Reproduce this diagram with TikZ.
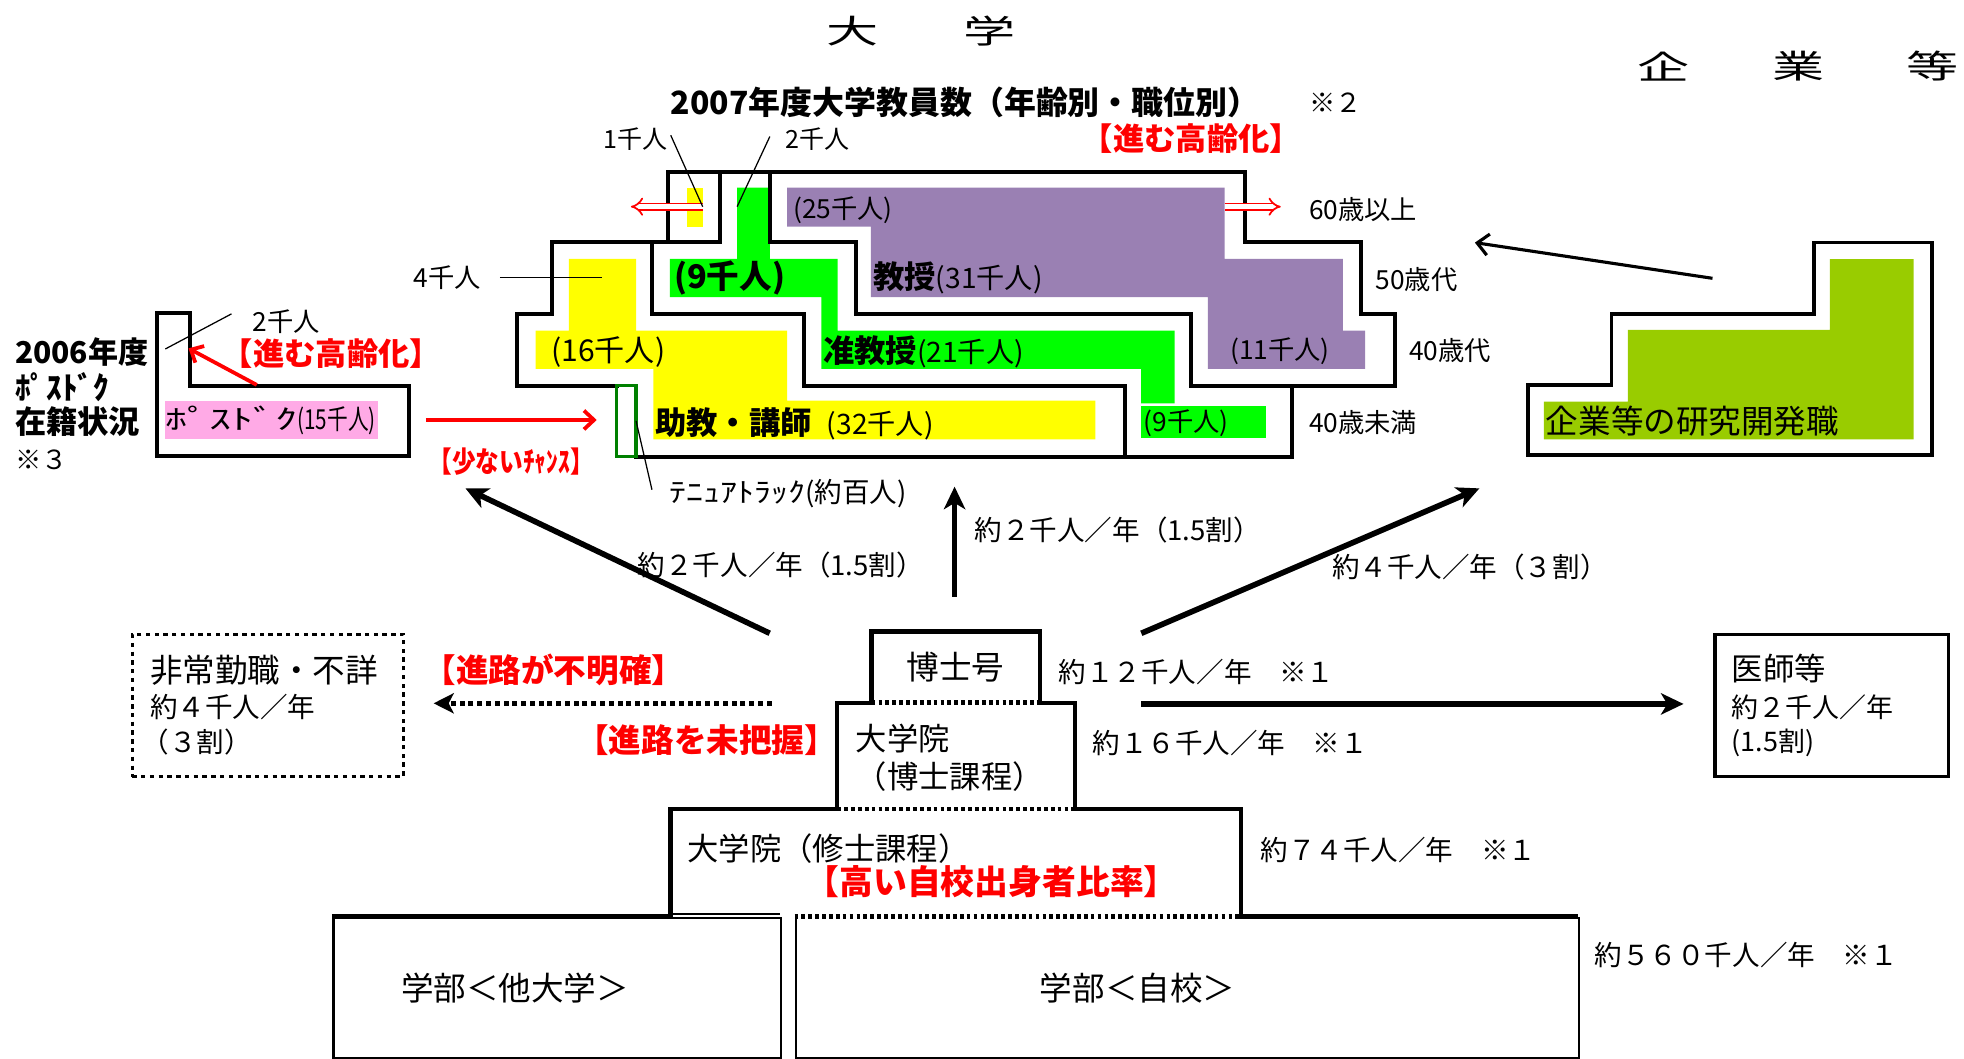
\documentclass[tikz,border=0pt]{standalone}
\usepackage{fontspec}
\usepackage{graphicx}
\setmainfont{Noto Sans CJK JP}
\newfontfamily\narrowfont[FakeStretch=0.82]{Noto Sans CJK JP}
\usetikzlibrary{arrows.meta}
\definecolor{cyellow}{HTML}{FFFF00}
\definecolor{cgreen}{HTML}{00FF00}
\definecolor{cpurple}{HTML}{9A80B3}
\definecolor{ccomp}{HTML}{99CC00}
\definecolor{cpink}{HTML}{FFAAE6}
\definecolor{cred}{HTML}{FF0000}
\definecolor{cdkgreen}{HTML}{008000}
\begin{document}
\begin{tikzpicture}[x=1pt,y=-1pt,
  txt/.style={inner sep=0pt, anchor=west, font=\fontsize{21}{24}\selectfont},
  flow/.style={inner sep=0pt, anchor=west, font=\fontsize{22}{24}\selectfont},
  mid/.style={inner sep=0pt, anchor=west, font=\fontsize{25}{28}\selectfont},
  hdr/.style={inner sep=0pt, anchor=west, font=\fontsize{25}{28}\selectfont\bfseries},
  redlbl/.style={inner sep=0pt, anchor=west, text=cred, font=\fontsize{25}{28}\selectfont\bfseries},
  bigchar/.style={inner sep=0pt, font=\fontsize{26}{28}\selectfont},
  wall/.style={line width=3.2pt, line join=miter, line cap=rect},
  thinline/.style={line width=1pt},
  bigarrow/.style={line width=4.5pt, -{Stealth[length=18pt,width=17pt,inset=5pt]}},
  redarrow/.style={draw=cred, line width=3pt, -{Straight Barb[length=8pt,width=15pt]}},
  dblarrow/.style={draw=cred, double=white, line width=1.4pt, double distance=3.5pt, -{Implies[length=9pt,width=18pt]}},
  dotline/.style={line width=3.5pt, dash pattern=on 3pt off 2.5pt}
]
\useasboundingbox (0,0) rectangle (1568,845.4);

% ---------- headings ----------
\node[bigchar] (dai) at (681,25) {\scalebox{1.6}[1]{大}};
\node[bigchar] (gaku) at (790,25) {\scalebox{1.6}[1]{学}};
\node[bigchar] (ki) at (1328,53) {\scalebox{1.6}[1]{企}};
\node[bigchar] (gyo) at (1436,53) {\scalebox{1.6}[1]{業}};
\node[bigchar] (to) at (1543,53) {\scalebox{1.6}[1]{等}};

\node[hdr, font=\fontsize{25.5}{28}\selectfont\bfseries] (title) at (535.3,82) {2007年度大学教員数（年齢別・職位別）};
\node[txt] (note2) at (1045.4,82) {※２};
\node[redlbl] (aging1) at (863.5,111) {【進む高齢化】};

% ---------- university faculty fills ----------
\fill[cyellow] (548.6,149.8) rectangle (561.4,181);
\fill[cgreen] (588.5,149.8) -- (614.6,149.8) -- (614.6,206.7) -- (668.7,206.7) -- (668.7,264) -- (937.7,264) -- (937.7,322) -- (911.1,322) -- (911.1,294.5) -- (655.8,294.5) -- (655.8,237.3) -- (534.9,237.3) -- (534.9,206.7) -- (588.5,206.7) -- cycle;
\fill[cgreen] (911.1,324.1) rectangle (1011,349.9);
\fill[cpurple] (628.4,149.8) -- (977.6,149.8) -- (977.6,206.7) -- (1072,206.7) -- (1072,264) -- (1089.9,264) -- (1089.9,294.5) -- (964.3,294.5) -- (964.3,237.3) -- (695.3,237.3) -- (695.3,180.9) -- (628.4,180.9) -- cycle;
\fill[cyellow] (454.2,206.7) -- (507.8,206.7) -- (507.8,264) -- (628.4,264) -- (628.4,319.8) -- (874.5,319.8) -- (874.5,350.7) -- (521.6,350.7) -- (521.6,294.5) -- (427.6,294.5) -- (427.6,264) -- (454.2,264) -- cycle;

% ---------- university faculty walls ----------
\draw[wall] (492.2,307.9) -- (412.9,307.9) -- (412.9,250.7) -- (440.5,250.7) -- (440.5,192.9) -- (533.5,192.9) -- (533.5,137.1) -- (993.6,137.1) -- (993.6,192.9) -- (1086.6,192.9) -- (1086.6,250.7) -- (1114.1,250.7) -- (1114.1,307.9) -- (1031.6,307.9) -- (1031.6,364.6) -- (507.8,364.6);
\draw[wall] (574.7,137.1) -- (574.7,192.9) -- (520.6,192.9) -- (520.6,250.7) -- (642.1,250.7) -- (642.1,307.9) -- (897.8,307.9) -- (897.8,364.6);
\draw[wall] (614.6,137.1) -- (614.6,192.9) -- (683.3,192.9) -- (683.3,250.7) -- (950.5,250.7) -- (950.5,307.9) -- (1031.6,307.9);
\draw[cdkgreen, line width=2.5pt] (492.2,307.9) rectangle (507.8,364.6);

% red double arrows
\coordinate (dlS) at (561.4,165); \coordinate (dlE) at (503.7,165);
\coordinate (drS) at (977.6,165); \coordinate (drE) at (1022.5,165);
\draw[dblarrow] (dlS) -- (dlE);
\draw[dblarrow] (drS) -- (drE);

% small labels with leader lines
\node[txt, font=\fontsize{20}{24}\selectfont] (l1k) at (481.7,111) {1千人};
\node[txt, font=\fontsize{20}{24}\selectfont] (l2k) at (627,111) {2千人};
\coordinate (l1a) at (535.5,108); \coordinate (l1b) at (561,165);
\coordinate (l2a) at (614.6,109); \coordinate (l2b) at (588.5,165);
\draw[thinline] (l1a) -- (l1b);
\draw[thinline] (l2a) -- (l2b);
\node[txt] (l4k) at (330,222) {4千人};
\coordinate (l4a) at (399,221.4); \coordinate (l4b) at (481,221.4);
\draw[thinline] (l4a) -- (l4b);

% texts in the bands
\node[txt] (t25) at (633,167.6) {(25千人)};
\node[hdr, font=\fontsize{26}{28}\selectfont\bfseries] (t9a) at (538,222.2) {(9千人)};
\node[txt, font=\fontsize{22.5}{24}\selectfont] (tprof) at (697,222.2) {{\fontsize{25}{28}\selectfont\bfseries 教授}(31千人)};
\node[txt, font=\fontsize{24}{26}\selectfont] (t16) at (440,280.7) {(16千人)};
\node[txt, font=\fontsize{22.5}{24}\selectfont] (tassoc) at (657,280.7) {{\fontsize{25}{28}\selectfont\bfseries 准教授}(21千人)};
\node[txt] (t11) at (982,280.7) {(11千人)};
\node[txt, font=\fontsize{22.5}{24}\selectfont] (tassist) at (523,338) {{\fontsize{25}{28}\selectfont\bfseries 助教・講師}\hspace{12pt}(32千人)};
\node[txt] (t9b) at (913,338) {(9千人)};

% age labels
\node[txt] (age60) at (1045,167.6) {60歳以上};
\node[txt] (age50) at (1098,223) {50歳代};
\node[txt] (age40) at (1125,280) {40歳代};
\node[txt] (age39) at (1045,337) {40歳未満};

% tenure track
\node[txt, font=\fontsize{22}{24}\selectfont] (tenure) at (534.6,393.8) {\scalebox{1.23}[1]{ﾃﾆｭｱﾄﾗｯｸ}(約百人)};
\coordinate (tna) at (507.8,336); \coordinate (tnb) at (520.5,391);
\draw[thinline] (tna) -- (tnb);

% ---------- postdoc ----------
\fill[cpink] (131.7,320.1) rectangle (301.4,350.7);
\draw[wall] (125,250.1) -- (151.9,250.1) -- (151.9,307.9) -- (326.6,307.9) -- (326.6,363.7) -- (125,363.7) -- cycle;
\node[txt, font=\fontsize{22}{24}\selectfont] (pdtext) at (131.7,335.4) {\scalebox{1.6}[1]{ﾎﾟｽﾄﾞｸ}\scalebox{0.75}[1]{(15千人)}};
\node[hdr, font=\fontsize{24}{28}\selectfont\bfseries] (pd1) at (11.8,280.7) {2006年度};
\node[hdr] (pd2) at (11.8,308.7) {ﾎﾟｽﾄﾞｸ};
\node[hdr] (pd3) at (11.8,336.6) {在籍状況};
\node[txt] (pd4) at (11.8,367.2) {※３};
\node[txt] (pd2k) at (201.6,256.8) {2千人};
\coordinate (p2a) at (132,278.6); \coordinate (p2b) at (184.8,250.6);
\draw[thinline] (p2a) -- (p2b);
\node[redlbl] (aging2) at (177,282) {【進む高齢化】};
\coordinate (pra) at (205,307.3); \coordinate (prb) at (150.5,278.1);
\draw[redarrow] (pra) -- (prb);
\coordinate (pca) at (340,335.3); \coordinate (pcb) at (476.4,335.3);
\draw[redarrow] (pca) -- (pcb);
\node[redlbl, font=\fontsize{23}{26}\selectfont\narrowfont\bfseries] (chance) at (342,368.5) {【少ないﾁｬﾝｽ】};

% ---------- company ----------
\fill[ccomp] (1460.8,206.8) -- (1527.7,206.8) -- (1527.7,350.7) -- (1232.5,350.7) -- (1232.5,320.6) -- (1299.7,320.6) -- (1299.7,263.4) -- (1460.8,263.4) -- cycle;
\draw[wall, line width=3pt] (1219.7,307.3) -- (1286.6,307.3) -- (1286.6,250.7) -- (1448.1,250.7) -- (1448.1,193.7) -- (1542.3,193.7) -- (1542.3,363.2) -- (1219.7,363.2) -- cycle;
\node[txt, font=\fontsize{26}{28}\selectfont] (comptext) at (1234,336.6) {企業等の研究開発職};
\coordinate (cua) at (1367.2,222.2); \coordinate (cub) at (1177.5,193.7);
\draw[line width=2.5pt, -{Straight Barb[length=9pt,width=17pt]}] (cua) -- (cub);

% ---------- arrows from doctorate ----------
\coordinate (a1s) at (614.5,505.6); \coordinate (a1e) at (371.6,389.9);
\draw[bigarrow] (a1s) -- (a1e);
\coordinate (a2s) at (762.1,476.3); \coordinate (a2e) at (762.1,388.5);
\draw[bigarrow, line width=4pt] (a2s) -- (a2e);
\coordinate (a3s) at (911.2,505.6); \coordinate (a3e) at (1181.1,389.9);
\draw[bigarrow] (a3s) -- (a3e);
\coordinate (a4s) at (911.2,562); \coordinate (a4e) at (1344.1,562);
\draw[bigarrow] (a4s) -- (a4e);
\coordinate (a5s) at (616,561.5); \coordinate (a5e) at (346.2,561.5);
\draw[line width=4pt, dash pattern=on 4pt off 3pt, -{Stealth[length=16pt,width=16pt,inset=4pt]}] (a5s) -- (a5e);

\node[flow] (f1) at (509,451) {約２千人／年（1.5割）};
\node[flow] (f2) at (778,423) {約２千人／年（1.5割）};
\node[flow] (f3) at (1063.3,452.4) {約４千人／年（３割）};

% ---------- non-regular box ----------
\node[draw, line width=2.5pt, dash pattern=on 3.5pt off 3.5pt, minimum width=216.3pt, minimum height=113.6pt, anchor=north west, inner sep=0pt] (hijo) at (104.4,505.1) {};
\node[mid, font=\fontsize{26}{28}\selectfont] (hj1) at (119.6,534.9) {非常勤職・不詳};
\node[flow] (hj2) at (119.6,564.1) {約４千人／年};
\node[flow] (hj3) at (113,592.1) {（３割）};
\node[redlbl, font=\fontsize{26}{28}\selectfont\bfseries] (unclear) at (338,534.9) {【進路が不明確】};
\node[redlbl, font=\fontsize{26}{28}\selectfont\bfseries] (unknown) at (460,590.8) {【進路を未把握】};

% ---------- doctors box ----------
\node[draw, line width=2.8pt, minimum width=186.5pt, minimum height=113.6pt, anchor=north west, inner sep=0pt] (ishi) at (1367.6,505.1) {};
\node[mid] (is1) at (1382.4,533.5) {医師等};
\node[txt, font=\fontsize{21.5}{24}\selectfont] (is2) at (1382.4,565) {約２千人／年};
\node[txt, font=\fontsize{21.5}{24}\selectfont] (is3) at (1382.4,593) {(1.5割)};

% ---------- pyramid ----------
% doctorate degree
\draw[line width=3.5pt, line join=miter] (695.9,561) -- (695.9,504.3) -- (830.2,504.3) -- (830.2,561);
\draw[dotline] (695.9,561) -- (830.2,561);
\node[mid, font=\fontsize{26}{28}\selectfont, anchor=center] (hakase) at (763,533) {博士号};
\node[flow] (n12) at (845,536.2) {約１２千人／年　※１};
% doctoral course
\draw[line width=3pt, line join=miter] (695.9,561) -- (668.4,561) -- (668.4,646.1);
\draw[line width=3pt, line join=miter] (830.2,561) -- (858.2,561) -- (858.2,646.1);
\draw[dotline] (668.4,646.1) -- (858.2,646.1);
\node[mid] (dc1) at (683,590) {大学院};
\node[mid] (dc2) at (683,620) {（博士課程）};
\node[flow] (n16) at (872,593.4) {約１６千人／年　※１};
% master course
\draw[line width=3.5pt, line join=miter] (668.4,646.1) -- (535.2,646.1) -- (535.2,731.8);
\draw[line width=3.5pt, line join=miter] (858.2,646.1) -- (991,646.1) -- (991,731.8);
\draw[line width=1.5pt] (535.2,729.7) -- (622.4,729.7);
\node[mid] (mc1) at (548.7,677.3) {大学院（修士課程）};
\node[redlbl, font=\fontsize{27}{30}\selectfont\bfseries] (ownrate) at (643,703.9) {【高い自校出身者比率】};
\node[flow] (n74) at (1006.2,678.6) {約７４千人／年　※１};
% undergraduate
\node[draw, line width=2.2pt, minimum width=357.5pt, minimum height=112.3pt, anchor=north west, inner sep=0pt] (other) at (264.9,731.8) {};
\node[draw, line width=2.2pt, minimum width=625.3pt, minimum height=112.3pt, anchor=north west, inner sep=0pt] (own) at (634.3,731.8) {};
\draw[line width=4pt] (264.9,731.8) -- (535.2,731.8);
\draw[draw=white, line width=3.6pt] (636.5,731.8) -- (988.8,731.8);
\draw[dotline] (634.3,731.8) -- (991,731.8);
\draw[line width=4pt] (991,731.8) -- (1259.6,731.8);
\node[mid, font=\fontsize{26}{28}\selectfont] (ug1) at (320,789) {学部＜他大学＞};
\node[mid, font=\fontsize{26}{28}\selectfont] (ug2) at (830,789) {学部＜自校＞};
\node[flow] (n560) at (1273,762.4) {約５６０千人／年　※１};
\end{tikzpicture}
\end{document}
